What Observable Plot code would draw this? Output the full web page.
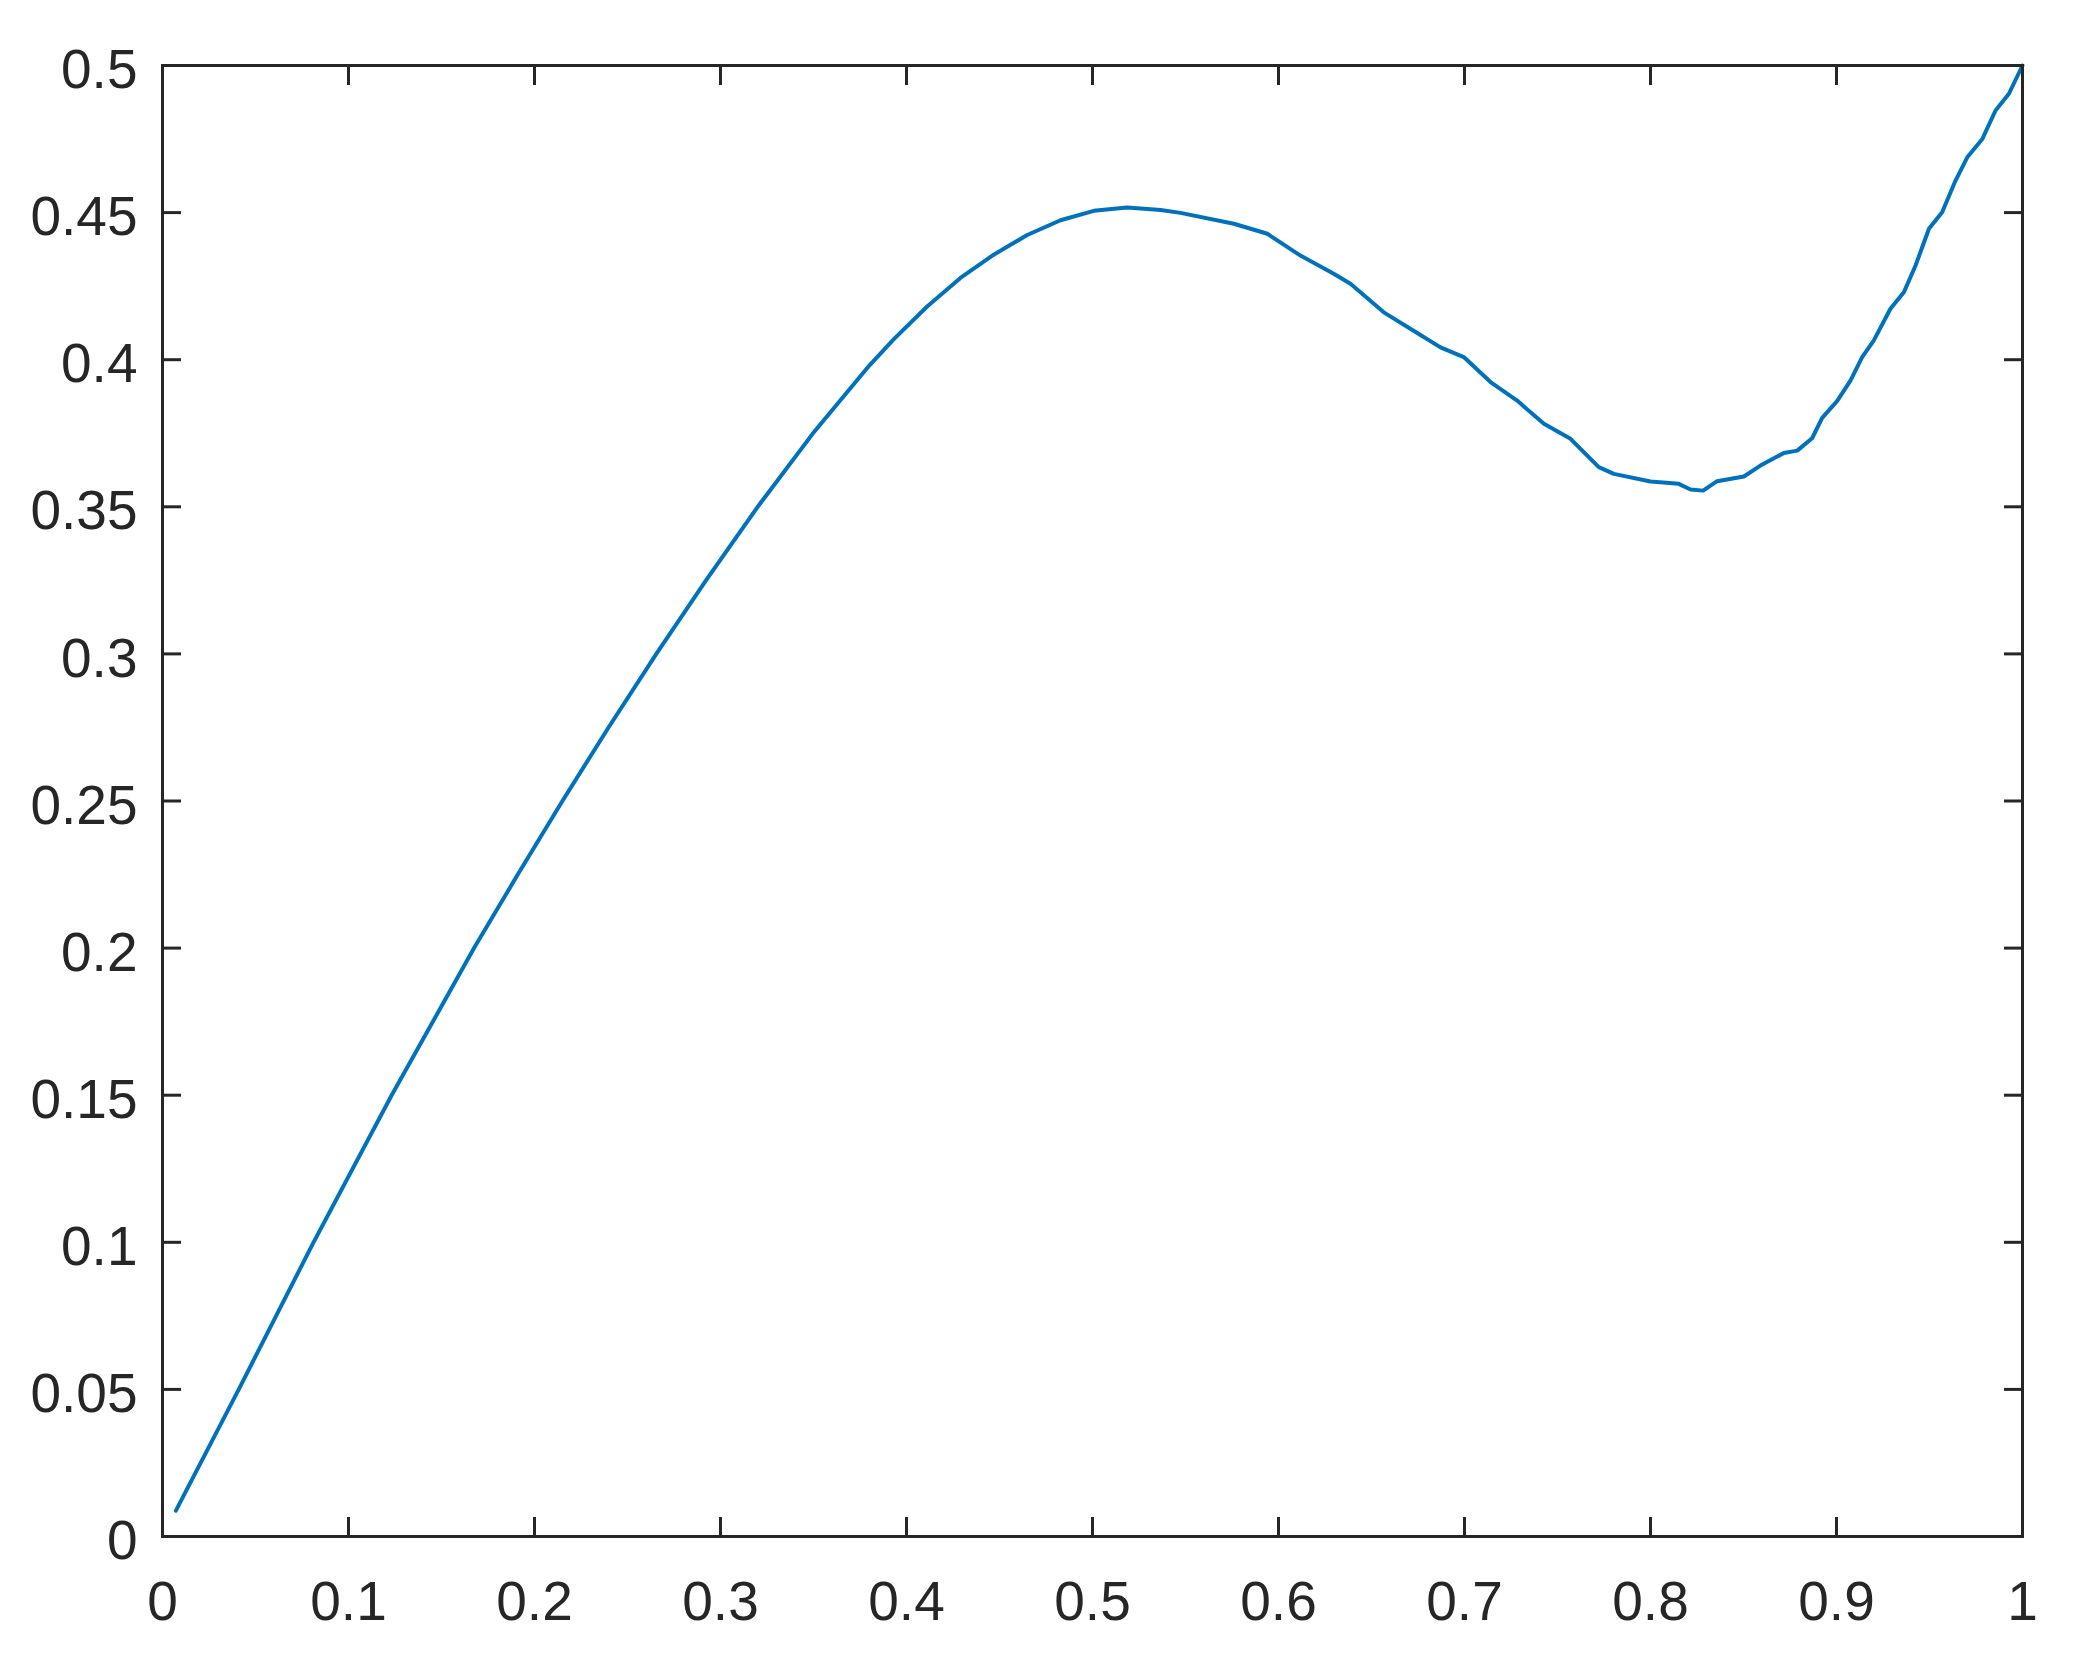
<!DOCTYPE html>
<html>
<head>
<meta charset="utf-8">
<script src="https://cdn.jsdelivr.net/npm/d3@7"></script>
<script src="https://cdn.jsdelivr.net/npm/@observablehq/plot@0.6"></script>
<style>
  html, body { margin: 0; padding: 0; background: #ffffff; }
  #chart { width: 2073px; height: 1665px; }
</style>
</head>
<body>
<div id="chart"></div>
<script>
// Series
const xValues = [0.0072, 0.041, 0.0812, 0.1232, 0.1675, 0.191, 0.215, 0.2398, 0.2655, 0.2922, 0.32, 0.3495, 0.38, 0.3932, 0.4111, 0.429, 0.4469, 0.4649, 0.4828, 0.5007, 0.5186, 0.5366, 0.5473, 0.576, 0.594, 0.6118, 0.6297, 0.6387, 0.6566, 0.6746, 0.6871, 0.6996, 0.714, 0.7283, 0.7427, 0.757, 0.7722, 0.7803, 0.8, 0.8152, 0.8215, 0.8283, 0.8358, 0.8502, 0.8591, 0.8717, 0.8789, 0.8869, 0.8923, 0.9003, 0.9075, 0.9138, 0.92, 0.929, 0.9362, 0.9425, 0.9497, 0.9568, 0.964, 0.9703, 0.9783, 0.9855, 0.9927, 1.0];
const yValues = [0.0088, 0.05, 0.1, 0.15, 0.2, 0.225, 0.25, 0.275, 0.3, 0.325, 0.35, 0.3748, 0.398, 0.407, 0.4181, 0.4278, 0.4357, 0.4424, 0.4474, 0.4506, 0.4517, 0.4509, 0.4499, 0.4462, 0.4428, 0.4354, 0.4292, 0.4258, 0.4161, 0.4091, 0.4042, 0.4009, 0.3924, 0.3861, 0.3782, 0.3731, 0.3635, 0.3612, 0.3586, 0.3578, 0.3559, 0.3555, 0.3587, 0.3603, 0.364, 0.3683, 0.3691, 0.3733, 0.3802, 0.3859, 0.3929, 0.4009, 0.4065, 0.4173, 0.4229, 0.432, 0.4445, 0.4501, 0.4609, 0.4688, 0.4749, 0.4847, 0.4904, 0.5];
const xTicks = [0, 0.1, 0.2, 0.3, 0.4, 0.5, 0.6, 0.7, 0.8, 0.9, 1];
const yTicks = [0, 0.05, 0.1, 0.15, 0.2, 0.25, 0.3, 0.35, 0.4, 0.45, 0.5];

const rows = xValues.map((x, i) => ({x, y: yValues[i]}));
const fmt = d => String(+d.toFixed(2));
const ink = "#262626";
const empty = () => "";

const chart = Plot.plot({
  width: 2073,
  height: 1665,
  marginLeft: 162,
  marginRight: 51,
  marginTop: 65,
  marginBottom: 129,
  style: {
    fontFamily: "'Liberation Sans', Arial, Helvetica, sans-serif",
    fontSize: "55px",
    color: ink,
    background: "#ffffff"
  },
  x: {domain: [0, 1], ticks: xTicks},
  y: {domain: [0, 0.5], ticks: yTicks},
  marks: [
    // inward tick marks on all four sides
    Plot.axisX(xTicks, {anchor: "bottom", tickSize: 19, dy: -19, tickFormat: empty, strokeWidth: 3, stroke: ink, label: null}),
    Plot.axisX(xTicks, {anchor: "top", tickSize: 19, dy: 19, tickFormat: empty, strokeWidth: 3, stroke: ink, label: null}),
    Plot.axisY(yTicks, {anchor: "left", tickSize: 19, dx: 19, tickFormat: empty, strokeWidth: 3, stroke: ink, label: null}),
    Plot.axisY(yTicks, {anchor: "right", tickSize: 19, dx: -19, tickFormat: empty, strokeWidth: 3, stroke: ink, label: null}),
    // tick labels
    Plot.axisX(xTicks, {anchor: "bottom", tickSize: 0, tickPadding: 44, tickFormat: fmt, fill: ink, label: null}),
    Plot.axisY(yTicks, {anchor: "left", tickSize: 0, tickPadding: 25, dy: 5, tickFormat: fmt, fill: ink, label: null}),
    Plot.line(rows, {x: "x", y: "y", stroke: "#0072BD", strokeWidth: 4, strokeLinejoin: "round"}),
    Plot.frame({stroke: ink, strokeWidth: 3})
  ]
});
document.getElementById("chart").appendChild(chart);
</script>
</body>
</html>
